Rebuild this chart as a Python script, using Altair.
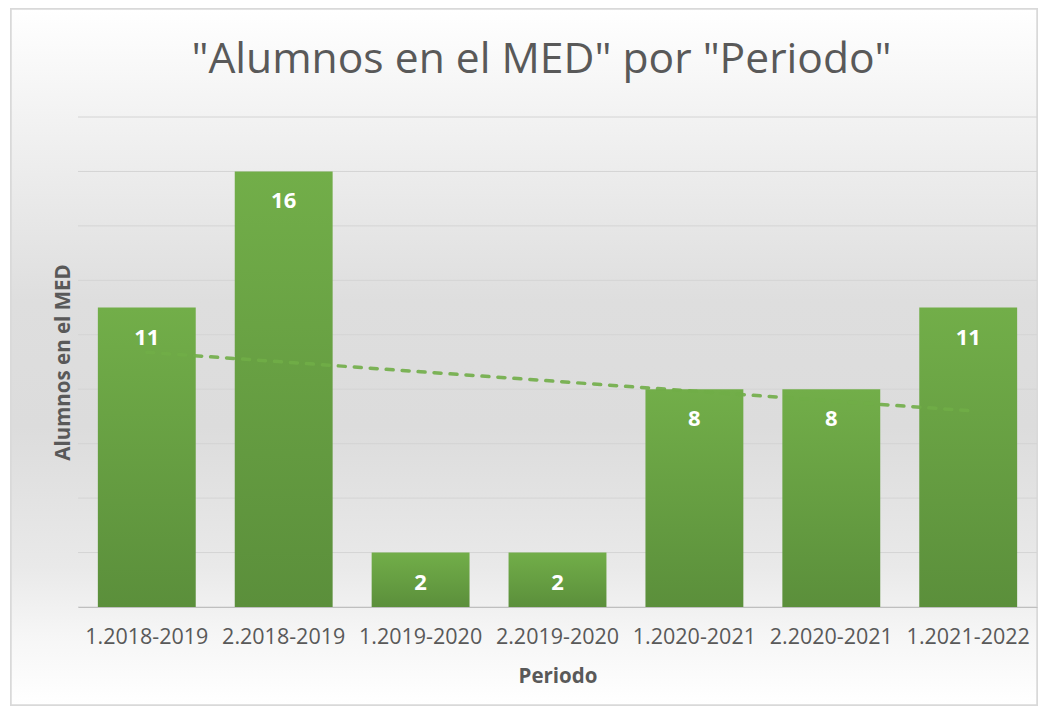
import altair as alt
import pandas as pd
import numpy as np

periodos = ["1.2018-2019", "2.2018-2019", "1.2019-2020", "2.2019-2020",
            "1.2020-2021", "2.2020-2021", "1.2021-2022"]
alumnos = [11, 16, 2, 2, 8, 8, 11]
grid_values = [0, 2, 4, 6, 8, 10, 12, 14, 16, 18]

# linear trend line (least squares over period index)
idx = np.arange(1, len(alumnos) + 1)
slope, intercept = np.polyfit(idx, alumnos, 1)
trend = intercept + slope * idx

df = pd.DataFrame({"Periodo": periodos, "Alumnos": alumnos, "trend": trend})
grid_df = pd.DataFrame({"g": grid_values})

W, H = 959, 490
PL, PT, PR, PB = 70, 109, 1, 99
FONT = "Open Sans"
GRAY = "#595959"

x_enc = alt.X(
    "Periodo:N", sort=periodos,
    scale=alt.Scale(paddingInner=0.285, paddingOuter=0.145),
    axis=alt.Axis(title="Periodo", labelAngle=0, ticks=False, zindex=1,
                  domainColor="#bfbfbf", domainWidth=1,
                  labelFont=FONT, labelFontSize=21.5, labelColor=GRAY, labelPadding=19,
                  titleFont=FONT, titleFontSize=20.5, titleFontWeight="bold",
                  titleColor=GRAY, titlePadding=19),
)
y_scale = alt.Scale(domain=[0, 18], nice=False)
y_axis = alt.Axis(title="Alumnos en el MED", labels=False, ticks=False, domain=False,
                  grid=False, zindex=1,
                  titleFont=FONT, titleFontSize=20.5, titleFontWeight="bold",
                  titleColor=GRAY, titlePadding=5)

bg = alt.Chart(df).mark_rect(
    fill=alt.Gradient(
        gradient="linear", x1=0, x2=0, y1=0, y2=1,
        stops=[alt.GradientStop(offset=0, color="#ffffff"),
               alt.GradientStop(offset=0.16, color="#f2f2f2"),
               alt.GradientStop(offset=0.42, color="#dedede"),
               alt.GradientStop(offset=0.6, color="#dcdcdc"),
               alt.GradientStop(offset=0.8, color="#e9e9e9"),
               alt.GradientStop(offset=0.9, color="#f6f6f6"),
               alt.GradientStop(offset=1, color="#ffffff")]),
    stroke="#d9d9d9", strokeWidth=1.5,
).encode(x=alt.value(-PL + 3), x2=alt.value(W + PR - 1),
         y=alt.value(-PT + 1), y2=alt.value(H + PB - 1))

grid = alt.Chart(grid_df).mark_rule(color="#d4d4d4", strokeWidth=1).encode(
    y=alt.Y("g:Q", scale=y_scale), x=alt.value(0), x2=alt.value(W))

bars = alt.Chart(df).mark_bar(
    color=alt.Gradient(
        gradient="linear", x1=0, x2=0, y1=0, y2=1,
        stops=[alt.GradientStop(offset=0, color="#72ae49"),
               alt.GradientStop(offset=1, color="#5b8f3b")]),
).encode(x=x_enc, y=alt.Y("Alumnos:Q", scale=y_scale, axis=y_axis))

labels = alt.Chart(df).mark_text(
    dy=30, color="white", font=FONT, fontSize=22, fontWeight="bold", baseline="middle"
).encode(x=alt.X("Periodo:N", sort=periodos), y=alt.Y("Alumnos:Q"), text="Alumnos:Q")

trendline = alt.Chart(df).mark_line(
    color="#70ad47", strokeWidth=3.5, strokeDash=[7, 9], strokeCap="round", opacity=0.9
).encode(x=alt.X("Periodo:N", sort=periodos), y=alt.Y("trend:Q"))

chart = alt.layer(bg, grid, bars, trendline, labels).properties(
    width=W, height=H,
    padding={"left": PL, "top": PT, "right": PR, "bottom": PB},
    autosize=alt.AutoSizeParams(type="none"),
    title=alt.TitleParams(
        text='"Alumnos en el MED" por "Periodo"', font=FONT, fontSize=42.6,
        fontWeight="normal", color=GRAY, anchor="middle", baseline="alphabetic",
        offset=-107, dx=-16),
).configure_view(stroke=None)

chart.save("out.html", embed_options={"renderer": "svg", "actions": False})
